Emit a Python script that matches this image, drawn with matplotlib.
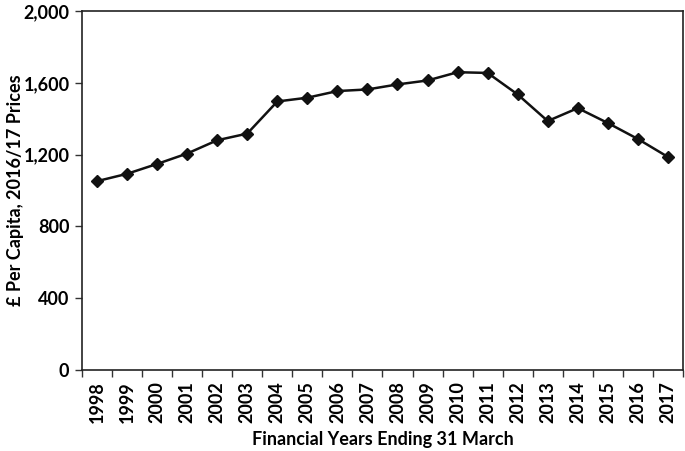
import numpy as np
import matplotlib.pyplot as plt
from matplotlib.ticker import FuncFormatter, FixedLocator

plt.rcParams['font.family'] = ['Lato', 'DejaVu Sans']

years = [str(y) for y in range(1998, 2018)]
per_capita = [1052, 1093, 1148, 1206, 1280, 1317, 1496, 1517, 1554, 1563,
              1591, 1613, 1659, 1655, 1535, 1387, 1459, 1376, 1287, 1187]

fig = plt.figure(figsize=(6.85, 4.51), dpi=100)
ax = fig.add_axes([0.1197, 0.1796, 0.8773, 0.796])

x = np.arange(len(years))
ax.plot(x, per_capita, color='#111111', lw=1.8, marker='D', ms=6.5,
        markeredgecolor='#111111', markerfacecolor='#111111')

ax.set_xlim(-0.5, len(years) - 0.5)
ax.set_ylim(0, 2000)
ax.set_yticks(np.arange(0, 2001, 400))
ax.yaxis.set_major_formatter(FuncFormatter(lambda v, p: f'{int(v):,}'))

ax.set_xticks(x)
ax.set_xticklabels(years, rotation=90)
ax.xaxis.set_minor_locator(FixedLocator(np.arange(-0.5, len(years), 1.0)))
ax.tick_params(axis='x', which='major', length=0, pad=8)
ax.tick_params(axis='x', which='minor', length=5, width=1, color='#333333')
ax.tick_params(axis='y', length=5, width=1, color='#333333', pad=4)

for lab in ax.get_xticklabels() + ax.get_yticklabels():
    lab.set_fontsize(13)
    lab.set_fontweight('bold')

for s in ax.spines.values():
    s.set_color('#222222')
    s.set_linewidth(1.2)

ax.set_xlabel('Financial Years Ending 31 March', fontsize=13, fontweight='bold', labelpad=6)
ax.set_ylabel('£ Per Capita, 2016/17 Prices', fontsize=13, fontweight='bold', labelpad=6)
ax.yaxis.set_label_coords(-0.097, 0.5)

fig.savefig('out.png', dpi=100)
